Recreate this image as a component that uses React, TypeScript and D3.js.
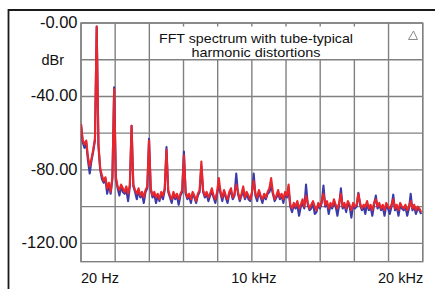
import * as d3 from 'd3';

// FFT bins: first bin at 20 Hz, bin width 102 Hz (196 bins)
const binHz = 102;
const firstBinHz = 20;

// dBr per bin, red trace (drawn on top)
const redDb = [
  -55, -64, -66, -64, -73, -78, -74, -69, -63, -2,
  -66, -79, -83, -86, -84, -90, -87, -92, -84, -36,
  -84, -89, -91, -88, -90, -92, -89, -93, -88, -56,
  -88, -91, -93, -90, -94, -92, -95, -91, -89, -64,
  -90, -94, -92, -95, -93, -96, -92, -94, -90, -69,
  -91, -94, -96, -92, -95, -93, -96, -93, -91, -72,
  -92, -95, -93, -96, -92, -94, -97, -93, -91, -75.5,
  -91, -94, -92, -95, -93, -90, -94, -96, -92, -84.5,
  -92, -95, -91, -94, -96, -92, -90, -95, -93, -88,
  -92, -96, -93, -89, -95, -92, -94, -96, -92, -86,
  -93, -95, -91, -94, -96, -93, -95, -92, -90, -84.5,
  -92, -96, -94, -91, -95, -93, -96, -92, -94, -88,
  -99, -101, -98, -100, -97, -101, -99, -96, -100, -94,
  -98, -101, -99, -97, -100, -102, -98, -100, -97, -93,
  -99, -97, -101, -98, -100, -96, -99, -101, -98, -93,
  -100, -98, -101, -97, -99, -102, -98, -100, -99, -93,
  -98, -101, -99, -100, -97, -101, -99, -102, -98, -96,
  -100, -98, -101, -99, -102, -98, -100, -101, -99, -96,
  -101, -99, -102, -98, -100, -101, -99, -102, -100, -97,
  -101, -99, -102, -100, -101, -103,
];

// dBr per bin, blue trace (drawn underneath)
const blueDb = [
  -55, -65, -68, -65, -75, -82, -75, -70, -64, -2,
  -67, -80, -85, -87, -85, -93, -88, -93, -85, -35,
  -85, -90, -94, -89, -92, -93, -91, -97, -89, -56,
  -89, -92, -96, -91, -95, -93, -98, -92, -90, -63,
  -91, -95, -93, -98, -94, -97, -93, -96, -91, -67.5,
  -92, -95, -98, -93, -96, -94, -99, -94, -92, -70,
  -93, -96, -94, -98, -93, -95, -98, -94, -92, -78,
  -92, -95, -93, -97, -94, -92, -95, -98, -93, -88,
  -93, -97, -92, -95, -98, -93, -92, -96, -94, -82,
  -93, -97, -94, -92, -96, -93, -96, -97, -93, -82,
  -94, -97, -92, -95, -98, -94, -96, -93, -92, -89,
  -93, -97, -95, -93, -96, -94, -98, -93, -95, -91,
  -100, -103, -99, -101, -99, -105, -100, -98, -101, -88,
  -99, -102, -101, -98, -104, -103, -99, -101, -98, -88.5,
  -100, -98, -104, -99, -101, -98, -100, -105, -99, -90,
  -101, -99, -103, -98, -100, -106, -99, -101, -100, -92.5,
  -99, -102, -100, -104, -98, -102, -100, -105, -99, -94,
  -101, -99, -102, -100, -105, -99, -101, -104, -100, -93.5,
  -102, -100, -105, -99, -101, -102, -100, -105, -101, -93,
  -102, -100, -104, -101, -102, -104,
];

const yGrid = [0, -20, -40, -60, -80, -100, -120];
const yLabelValues = [0, -20, -40, -80, -120];
const yLabelTexts = ['-0.00', 'dBr', '-40.00', '-80.00', '-120.00'];
const xGrid = [20, 2018, 4016, 6014, 8012, 10010, 12008, 14006, 16004, 18002, 20000];
const xLabelValues = [20, 10010, 20000];
const xLabelTexts = ['20 Hz', '10 kHz', '20 kHz'];
const titleLines = ['FFT spectrum with tube-typical', 'harmonic distortions'];

const W = 435;
const H = 289;
const plot = { left: 81, right: 422.7, top: 23, bottom: 261.7 };
const font = '"Liberation Sans", Arial, sans-serif';

const App = () => {
  const x = d3.scaleLinear().domain([20, 20000]).range([plot.left, plot.right]);
  const y = d3.scaleLinear().domain([-130, 0]).range([plot.bottom, plot.top]);

  const line = d3.line<number>()
    .x((_, i) => x(firstBinHz + i * binHz))
    .y(d => y(d));

  const gridColor = '#808080';

  return (
    <svg width={W} height={H} style={{ position: 'absolute', left: 0, top: 0, background: '#fff' }}>
      <defs>
        <clipPath id="plotClip">
          <rect x={plot.left} y={plot.top - 4} width={plot.right - plot.left} height={plot.bottom - plot.top + 4} />
        </clipPath>
      </defs>
      <path d={`M8.5,${H} V10 H${W}`} fill="none" stroke="#1a1a1a" strokeWidth={1.8} />

      {yGrid.map(v => (
        <line key={'y' + v} x1={plot.left} x2={plot.right} y1={y(v)} y2={y(v)} stroke={gridColor} strokeWidth={1.4} />
      ))}
      {xGrid.map(f => (
        <line key={'x' + f} x1={x(f)} x2={x(f)} y1={plot.top} y2={plot.bottom} stroke={gridColor} strokeWidth={1.4} />
      ))}
      <rect x={plot.left} y={plot.top} width={plot.right - plot.left} height={plot.bottom - plot.top}
        fill="none" stroke={gridColor} strokeWidth={1.4} />

      <rect x={152} y={26.5} width={205} height={32.5} fill="#fff" />
      {titleLines.map((t, i) => (
        <text key={t} x={256} y={42.5 + i * 14} textAnchor="middle" fontFamily={font} fontSize={13.5}
          fill="#111" textLength={i === 0 ? 194 : 129} lengthAdjust="spacingAndGlyphs">{t}</text>
      ))}
      <path d="M408.5,39.5 L417.5,39.5 L413.5,31 Z" fill="none" stroke="#8a8a8a" strokeWidth={1} />

      <g clipPath="url(#plotClip)" fill="none" strokeWidth={2.1} strokeLinejoin="round">
        <path d={line(blueDb) ?? ''} stroke="#3a3aa8" />
        <path d={line(redDb) ?? ''} stroke="#e8262c" />
      </g>

      {yLabelValues.map((v, i) => (
        <text key={'yl' + v} x={i === 1 ? 64 : 77.5} y={y(v) + (i === 1 ? 5.5 : 5)} textAnchor="end"
          fontFamily={font} fontSize={i === 1 ? 14.5 : 16.5} fill="#111">{yLabelTexts[i]}</text>
      ))}
      {xLabelValues.map((f, i) => (
        <text key={'xl' + f} x={i === 2 ? x(f) + 0.5 : i === 1 ? x(f) + 2 : x(f)} y={282.5}
          textAnchor={i === 0 ? 'start' : i === 1 ? 'middle' : 'end'}
          fontFamily={font} fontSize={14.5} fill="#111">{xLabelTexts[i]}</text>
      ))}
    </svg>
  );
};

export default App;
